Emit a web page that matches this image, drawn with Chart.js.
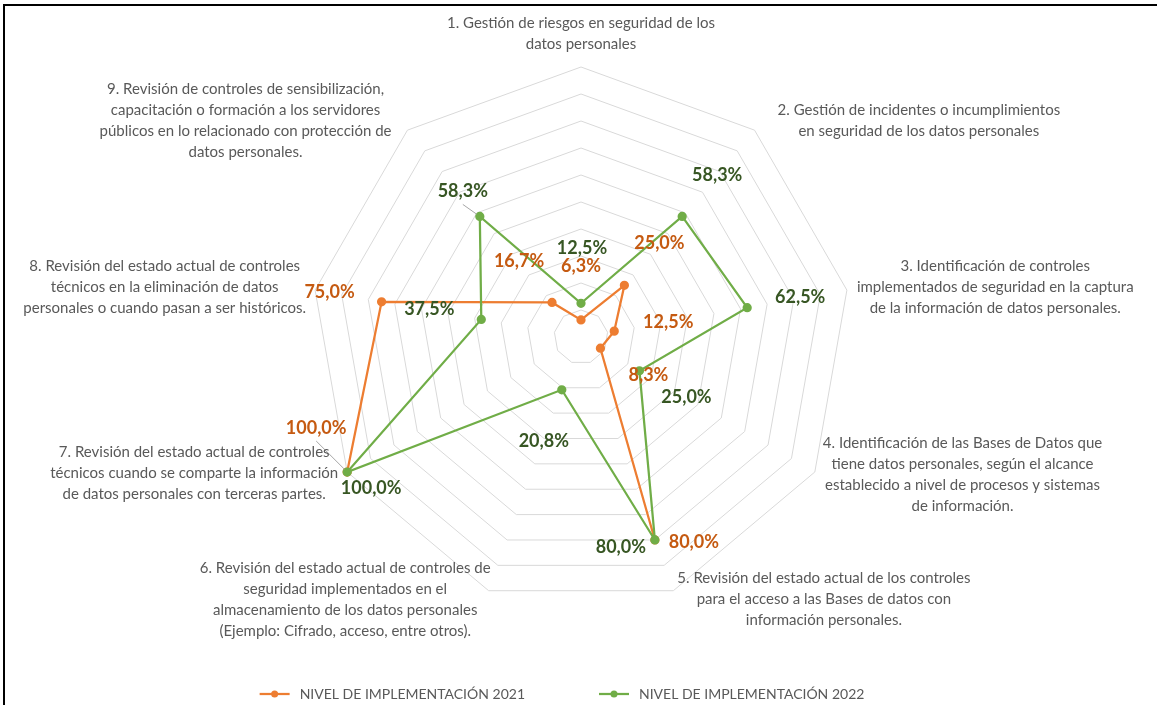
<!DOCTYPE html>
<html lang="es">
<head>
<meta charset="UTF-8">
<title>Nivel de implementación</title>
<script src="https://cdn.jsdelivr.net/npm/chart.js"></script>
<style>
  body { margin: 0; background: #fff; }
  .contenedor { position: relative; width: 1157px; height: 705px; }
  .marco { position: absolute; left: 3px; top: 4px; right: 0; bottom: 0; border-top: 2px solid #000; border-left: 2px solid #000; pointer-events: none; }
</style>
</head>
<body>
<div class="contenedor">
  <canvas id="grafico"></canvas>
  <div class="marco"></div>
</div>
<script>
// Datos del gráfico
const categorias = [
  ['1. Gestión de riesgos en seguridad de los', 'datos personales'],
  ['2. Gestión de incidentes o incumplimientos', 'en seguridad de los datos personales'],
  ['3. Identificación de controles', 'implementados de seguridad en la captura', 'de la información de datos personales.'],
  ['4. Identificación de las Bases de Datos que', 'tiene datos personales, según el alcance', 'establecido a nivel de procesos y sistemas', 'de información.'],
  ['5. Revisión del estado actual de los controles', 'para el acceso a las Bases de datos con', 'información personales.'],
  ['6. Revisión del estado actual de controles de', 'seguridad implementados en el', 'almacenamiento de los datos personales', '(Ejemplo: Cifrado, acceso, entre otros).'],
  ['7. Revisión del estado actual de controles', 'técnicos cuando se comparte la información', 'de datos personales con terceras partes.'],
  ['8. Revisión del estado actual de controles', 'técnicos en la eliminación de datos', 'personales o cuando pasan a ser históricos.'],
  ['9. Revisión de controles de sensibilización,', 'capacitación o formación a los servidores', 'públicos en lo relacionado con protección de', 'datos personales.']
];
const valores2021 = [6.3, 25.0, 12.5, 8.3, 80.0, null, 100.0, 75.0, 16.7];
const valores2022 = [12.5, 58.3, 62.5, 25.0, 80.0, 20.8, 100.0, 37.5, 58.3];
const series = ['NIVEL DE IMPLEMENTACIÓN 2021', 'NIVEL DE IMPLEMENTACIÓN 2022'];
const escalaMax = 100;
const escalaPaso = 10;

// Colores
const naranja = '#ED7D31', naranjaTexto = '#C55A11';
const verde = '#70AD47', verdeTexto = '#375623';
const grisTexto = '#595959';

// Desplazamiento de las etiquetas de valor respecto al punto [dx, dy]
const desplaz2021 = [[0,-54],[35,-42],[54,-9],[48,27],[39,2],[0,0],[-31,-44],[-52,-10],[-33,-41]];
const desplaz2022 = [[1,-55],[35,-41],[53,-11],[47,26],[-34,7],[-18,51],[24,16],[-52,-10],[-17,-25]];
// Etiquetas con línea guía [serie, índice]
const guias = [[0, 6], [1, 8]];
// Separación de las categorías respecto al vértice exterior [separación, dy]
const separacionCat = [[0,-23],[23,-10],[10,-3],[8,3],[4,8],[-2,9],[9,1],[9,-3],[16,-10]];

function formato(v) {
  return v.toFixed(1).replace('.', ',') + '%';
}

// Textos de las categorías alrededor del radar
const pluginCategorias = {
  id: 'categorias',
  afterDraw(chart) {
    const ctx = chart.ctx;
    const escala = chart.scales.r;
    const alto = 21;
    ctx.save();
    ctx.font = '15px Lato';
    ctx.fillStyle = grisTexto;
    ctx.textAlign = 'center';
    ctx.textBaseline = 'middle';
    chart.data.labels.forEach((lineas, i) => {
      const p = escala.getPointPosition(i, escala.drawingArea);
      const s = Math.sin(escala.getIndexAngle(i));
      const [sep, dy] = separacionCat[i];
      let cx, y0;
      if (Math.abs(s) < 0.01) {
        cx = p.x;
        y0 = p.y + dy - (lineas.length - 1) * alto;
      } else {
        const ancho = Math.max(...lineas.map(l => ctx.measureText(l).width));
        cx = s > 0 ? p.x + sep + ancho / 2 : p.x - sep - ancho / 2;
        y0 = p.y + dy - (lineas.length - 1) * alto / 2;
      }
      lineas.forEach((l, k) => ctx.fillText(l, cx, y0 + k * alto));
    });
    ctx.restore();
  }
};

// Etiquetas de valor
const pluginValores = {
  id: 'valores',
  afterDatasetsDraw(chart) {
    const ctx = chart.ctx;
    const desplaz = [desplaz2021, desplaz2022];
    const colores = [naranjaTexto, verdeTexto];
    ctx.save();
    ctx.font = 'bold 18px Lato';
    ctx.textAlign = 'center';
    ctx.textBaseline = 'middle';
    chart.data.datasets.forEach((ds, d) => {
      const meta = chart.getDatasetMeta(d);
      ds.data.forEach((v, i) => {
        if (v === null) return;
        const pt = meta.data[i];
        const x = pt.x + desplaz[d][i][0];
        const y = pt.y + desplaz[d][i][1];
        if (guias.some(g => g[0] === d && g[1] === i)) {
          ctx.strokeStyle = '#A6A6A6';
          ctx.lineWidth = 1;
          ctx.beginPath();
          ctx.moveTo(x, y + 13);
          const ang = Math.atan2(pt.y - y - 13, pt.x - x);
          ctx.lineTo(pt.x - 4 * Math.cos(ang), pt.y - 4 * Math.sin(ang));
          ctx.stroke();
        }
        ctx.fillStyle = colores[d];
        ctx.fillText(formato(v), x, y);
      });
    });
    ctx.restore();
  }
};

// Leyenda inferior
const pluginLeyenda = {
  id: 'leyenda',
  afterDraw(chart) {
    const ctx = chart.ctx;
    const y = 694, marca = 30, hueco = 10, entre = 74;
    ctx.save();
    ctx.font = '14px Lato';
    ctx.textBaseline = 'middle';
    const anchos = chart.data.datasets.map(ds => ctx.measureText(ds.label).width);
    const total = anchos.reduce((a, w) => a + marca + hueco + w, 0) + entre * (anchos.length - 1);
    let x = 562 - total / 2;
    chart.data.datasets.forEach((ds, d) => {
      ctx.strokeStyle = ds.borderColor;
      ctx.lineWidth = 2.25;
      ctx.beginPath();
      ctx.moveTo(x, y);
      ctx.lineTo(x + marca, y);
      ctx.stroke();
      ctx.fillStyle = ds.borderColor;
      ctx.beginPath();
      ctx.arc(x + marca / 2, y, 3.5, 0, Math.PI * 2);
      ctx.fill();
      ctx.fillStyle = grisTexto;
      ctx.textAlign = 'left';
      ctx.fillText(ds.label, x + marca + hueco, y);
      x += marca + hueco + anchos[d] + entre;
    });
    ctx.restore();
  }
};

const ctx = document.getElementById('grafico').getContext('2d');
const grafico = new Chart(ctx, {
  type: 'radar',
  data: {
    labels: categorias,
    datasets: [{
      label: series[0],
      data: valores2021,
      borderColor: naranja,
      backgroundColor: naranja,
      pointBackgroundColor: naranja,
      pointBorderColor: naranja,
      borderWidth: 2.25,
      pointRadius: 3.5,
      fill: false,
      spanGaps: false,
      order: 1
    }, {
      label: series[1],
      data: valores2022,
      borderColor: verde,
      backgroundColor: verde,
      pointBackgroundColor: verde,
      pointBorderColor: verde,
      borderWidth: 2.25,
      pointRadius: 3.5,
      fill: false,
      spanGaps: false,
      order: 0
    }]
  },
  options: {
    responsive: true,
    maintainAspectRatio: false,
    animation: false,
    layout: { padding: { top: 67, bottom: 98, left: 5, right: 0 } },
    plugins: {
      legend: { display: false },
      tooltip: { enabled: false }
    },
    scales: {
      r: {
        min: 0,
        max: escalaMax,
        ticks: { stepSize: escalaPaso, display: false },
        grid: { color: '#D9D9D9', lineWidth: 1 },
        angleLines: { display: false },
        pointLabels: { display: false }
      }
    }
  },
  plugins: [pluginCategorias, pluginValores, pluginLeyenda]
});
</script>
</body>
</html>
